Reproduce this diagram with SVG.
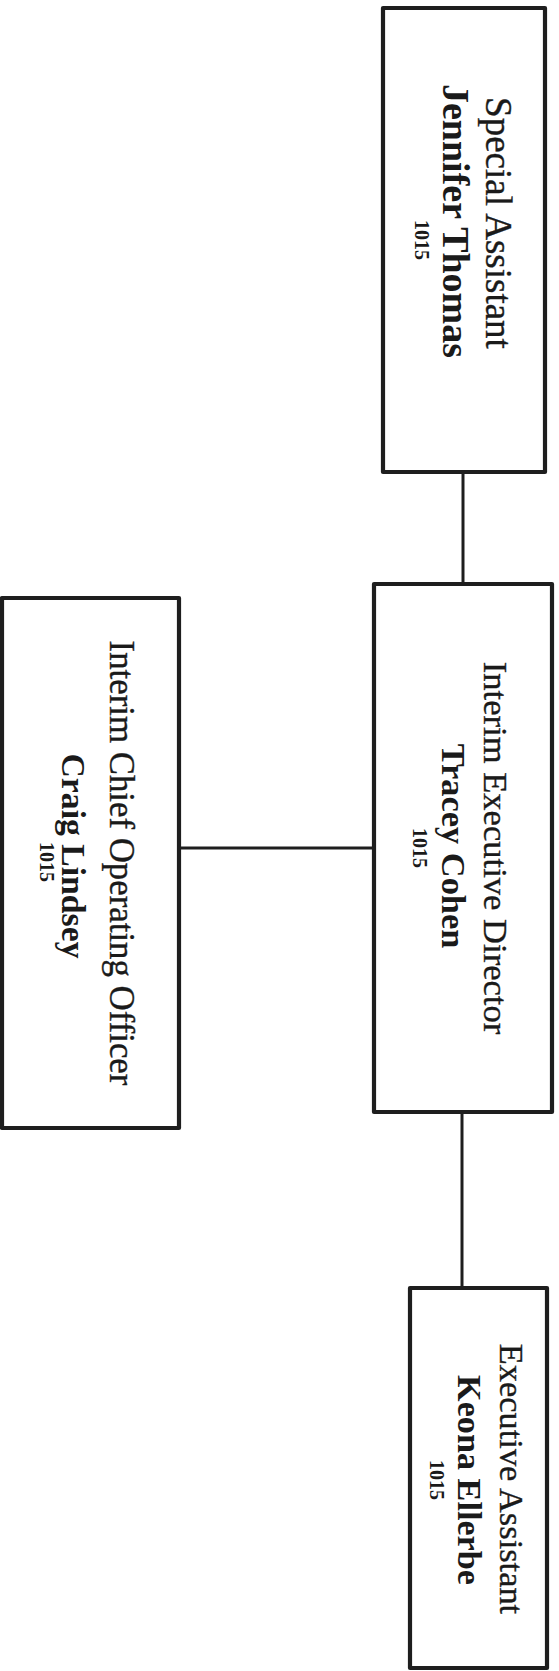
<svg xmlns="http://www.w3.org/2000/svg" width="559" height="1671" viewBox="0 0 559 1671">
<style>
.box{fill:#ffffff;stroke:#1e1e1e;stroke-width:4.2;stroke-linejoin:round}
.conn{stroke:#1e1e1e;stroke-width:3;fill:none}
text{font-family:"Liberation Serif","Times New Roman",serif;fill:#1a1a1a;text-anchor:middle}
.t{font-weight:normal;stroke:#1a1a1a;stroke-width:0.35}
.n{font-weight:bold}
.c{font-weight:bold;font-size:20px}
</style>
<rect width="559" height="1671" fill="#ffffff"/>
<g id="connectors">
<line class="conn" x1="463" y1="472" x2="463" y2="584"/>
<line class="conn" x1="178" y1="848" x2="374" y2="848"/>
<line class="conn" x1="462" y1="1112" x2="462" y2="1288"/>
</g>
<g id="node-jennifer-thomas">
<rect class="box" x="383" y="8" width="162" height="464"/>
<text class="t" font-size="37" transform="translate(486,223) rotate(90)">Special Assistant</text>
<text class="n" font-size="38" transform="translate(443,221) rotate(90)">Jennifer Thomas</text>
<text class="c" transform="translate(415,240) rotate(90)">1015</text>
</g>
<g id="node-tracey-cohen">
<rect class="box" x="374" y="584" width="178" height="528"/>
<text class="t" font-size="34.6" transform="translate(484,848) rotate(90)">Interim Executive Director</text>
<text class="n" font-size="34.4" transform="translate(442,846) rotate(90)">Tracey Cohen</text>
<text class="c" transform="translate(413,848) rotate(90)">1015</text>
</g>
<g id="node-craig-lindsey">
<rect class="box" x="2" y="598" width="177" height="530"/>
<text class="t" font-size="34.8" transform="translate(110,863) rotate(90)">Interim Chief Operating Officer</text>
<text class="n" font-size="33.7" transform="translate(62,856) rotate(90)">Craig Lindsey</text>
<text class="c" transform="translate(40,862) rotate(90)">1015</text>
</g>
<g id="node-keona-ellerbe">
<rect class="box" x="410" y="1288" width="137" height="380"/>
<text class="t" font-size="34.4" transform="translate(500,1479) rotate(90)">Executive Assistant</text>
<text class="n" font-size="34.2" transform="translate(458,1480) rotate(90)">Keona Ellerbe</text>
<text class="c" transform="translate(430,1480) rotate(90)">1015</text>
</g>
</svg>
